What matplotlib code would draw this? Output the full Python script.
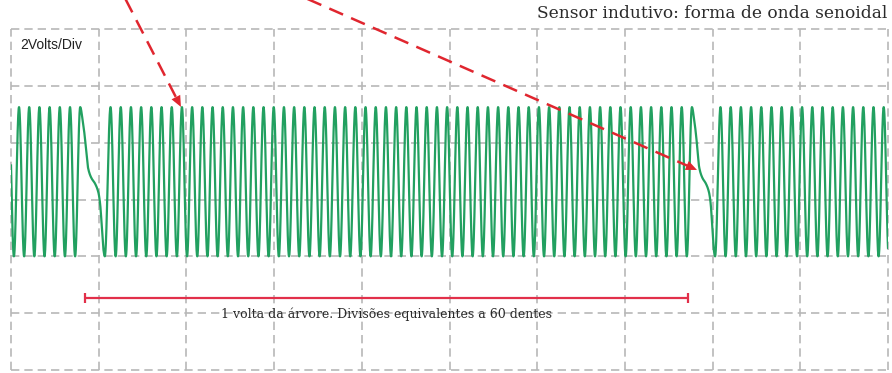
import numpy as np
import matplotlib
matplotlib.use("Agg")
import matplotlib.pyplot as plt

# ---- signal description (time in screen divisions, amplitude in volts) ----
volts_per_div = 2
n_xdiv, n_ydiv = 10, 6

tooth_period = 0.1163                     # divisions per tooth
segment_first_peak = [0.0913, 1.135, 8.090]
segment_teeth = [7, 58, 17]
signal_high = 9.25                        # V
signal_low = 4.0                          # V

# shape of the missing-tooth gap, as fraction of the gap (0 = last peak)
gap_frac = [0.0, 0.079, 0.138, 0.197, 0.252, 0.369, 0.483, 0.597, 0.655, 0.714, 0.769, 0.81]
gap_level = [1.0, 0.83, 0.65, 0.42, 0.20, 0.05, -0.02, -0.14, -0.29, -0.61, -0.92, -1.0]

# annotations
bar_span = [0.844, 7.72]
bar_level = 2.53
arrow_tail = [(1.241, 13.44), (3.098, 13.44)]
arrow_tip = [(1.938, 9.256), (7.822, 7.04)]

title = "Sensor indutivo: forma de onda senoidal"
scale_label = "2Volts/Div"
bar_label = "1 volta da árvore. Divisões equivalentes a 60 dentes"


def pchip(xk, yk, x):
    xk = np.asarray(xk, float)
    yk = np.asarray(yk, float)
    h = np.diff(xk)
    d = np.diff(yk) / h
    m = np.zeros_like(yk)
    for i in range(1, len(xk) - 1):
        if d[i - 1] * d[i] > 0:
            w1 = 2 * h[i] + h[i - 1]
            w2 = h[i] + 2 * h[i - 1]
            m[i] = (w1 + w2) / (w1 / d[i - 1] + w2 / d[i])
    idx = np.clip(np.searchsorted(xk, x) - 1, 0, len(xk) - 2)
    t = (x - xk[idx]) / h[idx]
    h00 = 2 * t**3 - 3 * t**2 + 1
    h10 = t**3 - 2 * t**2 + t
    h01 = -2 * t**3 + 3 * t**2
    h11 = t**3 - t**2
    return (h00 * yk[idx] + h10 * h[idx] * m[idx]
            + h01 * yk[idx + 1] + h11 * h[idx] * m[idx + 1])


def waveform(x):
    v = np.empty_like(x)
    firsts = np.array(segment_first_peak)
    lasts = firsts + (np.array(segment_teeth) - 1) * tooth_period
    n = len(firsts)
    for k in range(n):
        lo = -np.inf if k == 0 else firsts[k]
        hi = np.inf if k == n - 1 else lasts[k]
        sel = (x >= lo) & (x <= hi)
        v[sel] = np.cos(2 * np.pi * (x[sel] - firsts[k]) / tooth_period)
        if k < n - 1:
            g0, g1 = lasts[k], firsts[k + 1]
            sel = (x > g0) & (x < g1)
            f = (x[sel] - g0) / (g1 - g0)
            ftr = gap_frac[-1]
            out = np.where(
                f <= ftr,
                pchip(gap_frac, gap_level, np.minimum(f, ftr)),
                -np.cos(np.pi * (f - ftr) / (1 - ftr)),
            )
            v[sel] = out
    mid = (signal_high + signal_low) / 2
    amp = (signal_high - signal_low) / 2
    return mid + amp * v


fig = plt.figure(figsize=(8.92, 3.73), dpi=100)
ax = fig.add_axes([11 / 892, 3 / 373, 877 / 892, 341 / 373])
ax.set_xlim(0, n_xdiv)
ax.set_ylim(0, n_ydiv * volts_per_div)
ax.axis("off")

grid_kw = dict(color="#b8b8b8", lw=1.2, ls=(0, (5, 3)), zorder=1, clip_on=False)
for i in range(n_xdiv + 1):
    ax.axvline(i, **grid_kw)
for j in range(n_ydiv + 1):
    ax.axhline(j * volts_per_div, **grid_kw)

t = np.linspace(0, n_xdiv, 20000)
ax.plot(t, waveform(t), color="#22a060", lw=1.6, zorder=3)

# one-revolution bar
bar_color = "#e2304a"
ax.plot(bar_span, [bar_level, bar_level], color=bar_color, lw=1.6, zorder=4,
        solid_capstyle="butt")
for xb in bar_span:
    ax.plot([xb, xb], [bar_level - 0.18, bar_level + 0.18], color=bar_color,
            lw=1.6, zorder=4, solid_capstyle="butt")

# dashed pointer arrows
arrow_color = "#e0262f"
for (x0, y0), (x1, y1) in zip(arrow_tail, arrow_tip):
    dx, dy = x1 - x0, y1 - y0
    ax.plot([x0, x1 - 0.06 * dx / np.hypot(dx, dy / 2)],
            [y0, y1 - 0.06 * dy / np.hypot(dx, dy / 2)],
            color=arrow_color, lw=1.8, ls=(0, (6, 3.5)), zorder=5, clip_on=False)
    back = 0.02
    ax.annotate("", xy=(x1, y1), xytext=(x1 - back * dx, y1 - back * dy),
                arrowprops=dict(arrowstyle="-|>,head_length=0.8,head_width=0.35",
                                color=arrow_color, lw=0, shrinkA=0, shrinkB=0),
                zorder=6)

ax.text(0.11, 11.44, scale_label, fontsize=10, family="Liberation Sans",
        color="#222222", va="center", ha="left", zorder=6)
ax.text(sum(bar_span) / 2, 1.83, bar_label, fontsize=9.0,
        family="DejaVu Serif", color="#2a2a2a", ha="center",
        va="baseline", zorder=6)
fig.text(887 / 892, 1 - 14 / 373, title, fontsize=12.25,
         family="DejaVu Serif", color="#2a2a2a", ha="right", va="center")

fig.savefig("out.png", dpi=100)
